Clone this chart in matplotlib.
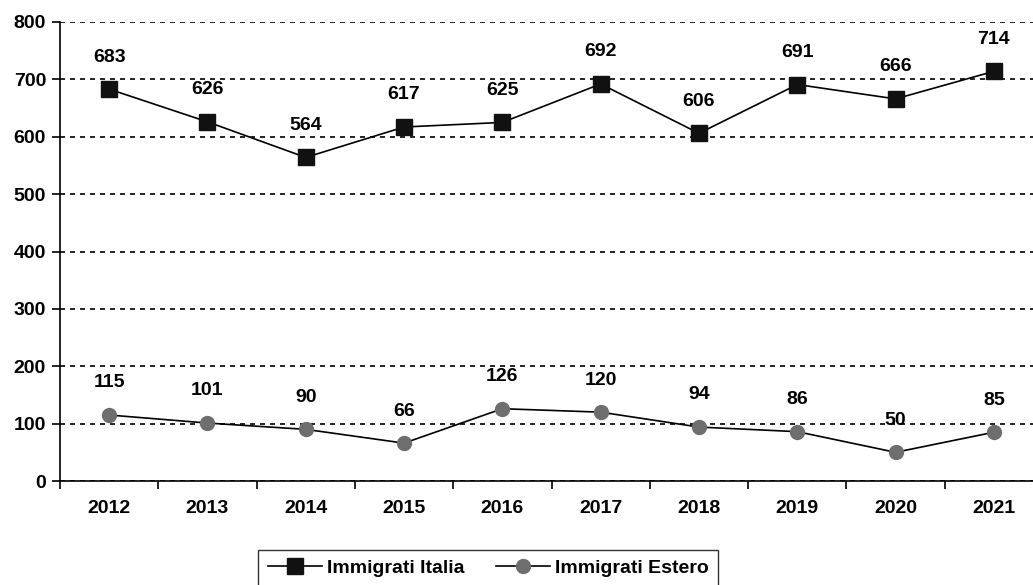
import matplotlib
matplotlib.use("Agg")
import matplotlib.pyplot as plt
from matplotlib.ticker import FixedLocator

years = ["2012", "2013", "2014", "2015", "2016", "2017", "2018", "2019", "2020", "2021"]
italia = [683, 626, 564, 617, 625, 692, 606, 691, 666, 714]
estero = [115, 101, 90, 66, 126, 120, 94, 86, 50, 85]

plt.rcParams['font.family'] = ['Liberation Sans', 'DejaVu Sans']
FS = 14

fig = plt.figure(figsize=(10.33, 5.85), dpi=100)
ax = fig.add_axes([60/1033, 1-481/585, 983/1033, 459/585])

x = list(range(len(years)))
ax.plot(x, italia, color='black', lw=1.2, marker='s', markersize=12,
        markerfacecolor='#111111', markeredgecolor='#111111', label='Immigrati Italia', zorder=3)
ax.plot(x, estero, color='black', lw=1.2, marker='o', markersize=10,
        markerfacecolor='#6e6e6e', markeredgecolor='#6e6e6e', label='Immigrati Estero', zorder=3)

for xi, v in zip(x, italia):
    ax.annotate(str(v), (xi, v), xytext=(0, 17), textcoords='offset points',
                ha='center', va='bottom', fontsize=FS, fontweight='bold')
for xi, v in zip(x, estero):
    ax.annotate(str(v), (xi, v), xytext=(0, 17), textcoords='offset points',
                ha='center', va='bottom', fontsize=FS, fontweight='bold')

ax.set_xlim(-0.5, len(years) - 0.5)
ax.set_ylim(0, 800)
ax.set_yticks(range(0, 801, 100))
ax.set_yticklabels([str(v) for v in range(0, 801, 100)], fontsize=FS, fontweight='bold')
ax.set_xticks(x)
ax.set_xticklabels(years, fontsize=FS, fontweight='bold')
ax.xaxis.set_minor_locator(FixedLocator([i + 0.5 for i in range(-1, len(years))]))
ax.tick_params(axis='x', which='major', length=0, pad=14)
ax.tick_params(axis='x', which='minor', length=6, width=1.2, direction='out')
ax.tick_params(axis='y', length=6, width=1.2, direction='out', pad=4)

for s in ['top', 'right']:
    ax.spines[s].set_visible(False)
for s in ['left', 'bottom']:
    ax.spines[s].set_linewidth(1.2)

ax.yaxis.grid(True, linestyle=(0, (3, 3)), color='black', lw=1.2)
ax.set_axisbelow(True)

leg = fig.legend(loc='lower left', bbox_to_anchor=(258/1033, -2/585), ncol=2,
                 frameon=True, fancybox=False, edgecolor='black',
                 prop={'weight': 'bold', 'size': FS}, handlelength=2.8,
                 borderpad=0.5, borderaxespad=0, columnspacing=1.6, handletextpad=0.25)
leg.get_frame().set_linewidth(1.0)

fig.savefig('out.png', dpi=100)
